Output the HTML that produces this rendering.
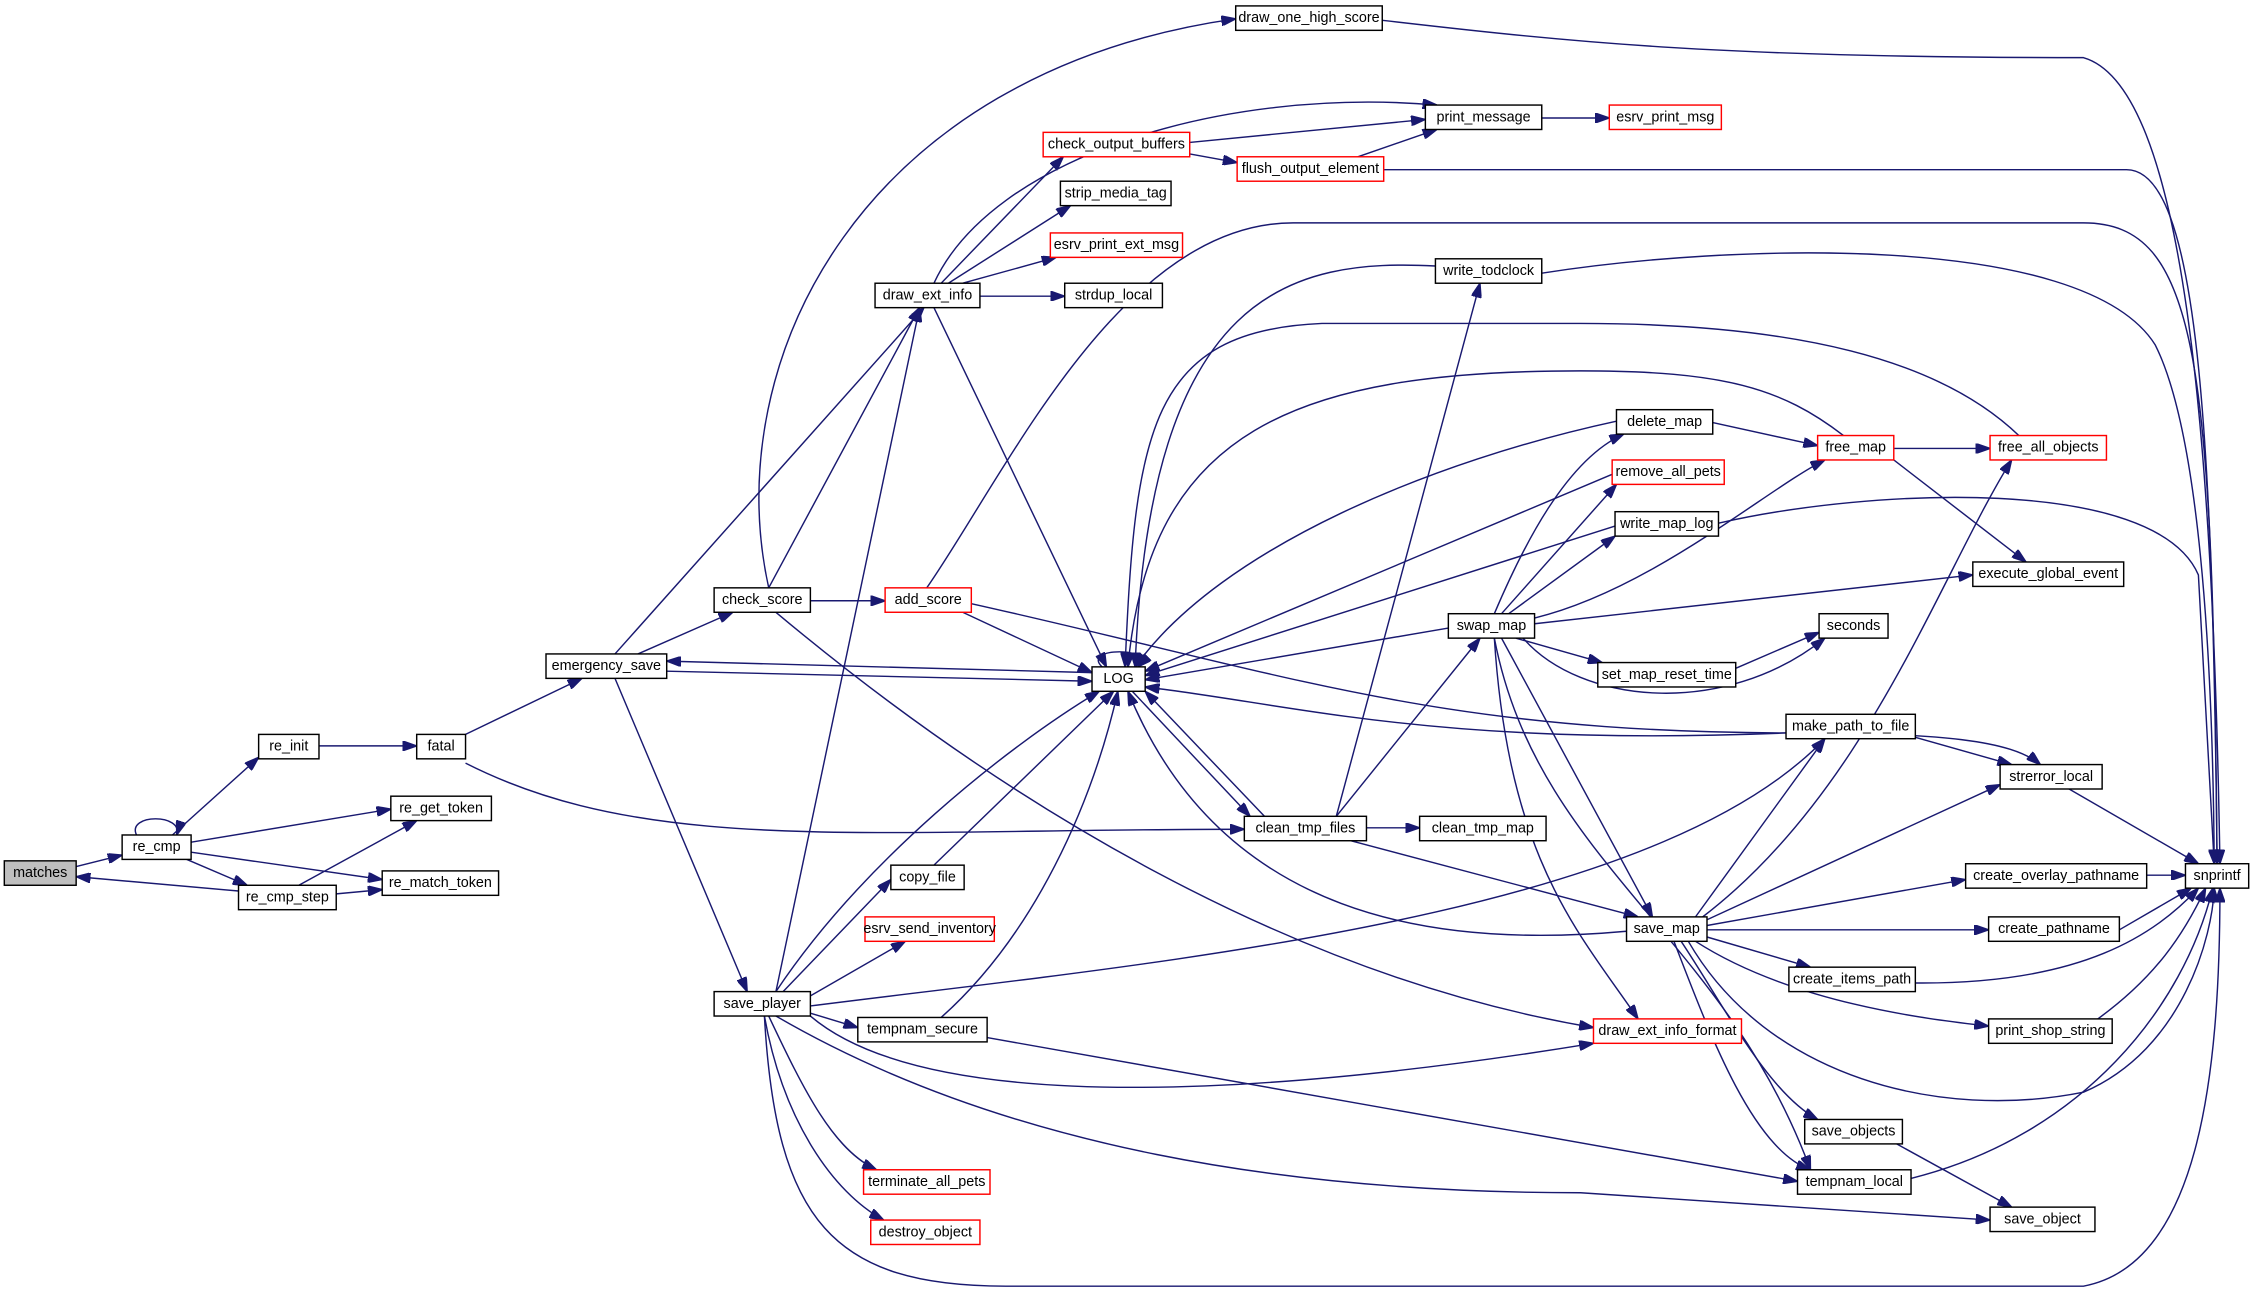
<!DOCTYPE html>
<html><head><meta charset="utf-8"><style>
html,body{margin:0;padding:0;background:#fff;}
svg{display:block;}
text{font-family:"Liberation Sans",sans-serif;font-size:10px;text-anchor:middle;dominant-baseline:central;fill:#000;}
.e{fill:none;stroke:#191970;stroke-width:1;marker-end:url(#a);}
.n{fill:#fff;stroke:#000;stroke-width:1;}
.r{fill:#fff;stroke:#ff0000;stroke-width:1;}
</style></head><body>
<svg width="2253" height="1305" viewBox="0 0 1568 908" xmlns="http://www.w3.org/2000/svg">
<defs><marker id="a" markerWidth="10" markerHeight="7" refX="10" refY="3.5" orient="auto" markerUnits="userSpaceOnUse"><path d="M0,0 L10,3.5 L0,7 z" fill="#191970" stroke="#191970"/></marker></defs>
<g>
<path class="e" d="M53,603 L85,595"/>
<path class="e" d="M95,581 C88,566 128,566 123,581"/>
<path class="e" d="M120,581 L180,527"/>
<path class="e" d="M133,586 L272,563"/>
<path class="e" d="M133,593 L266,612"/>
<path class="e" d="M130,598 L172,616"/>
<path class="e" d="M166,620 L53,610"/>
<path class="e" d="M208,616 L290,571"/>
<path class="e" d="M234,622 L266,619"/>
<path class="e" d="M222,519 L290,519"/>
<path class="e" d="M324,511 L405,472"/>
<path class="e" d="M324,531 C450,595 600,577 866,577"/>
<path class="e" d="M444,455 L510,426"/>
<path class="e" d="M428,455 L643,214"/>
<path class="e" d="M428,472 L520,690"/>
<path class="e" d="M760,468 L464,460"/>
<path class="e" d="M464,467 L760,474"/>
<path class="e" d="M535,409 L640,214"/>
<path class="e" d="M535,409 C500,250 600,50 860,13"/>
<path class="e" d="M564,418 L616,418"/>
<path class="e" d="M540,426 C700,560 900,680 1109,715"/>
<path class="e" d="M670,426 L760,468"/>
<path class="e" d="M645,409 C700,330 780,155 900,155 L1450,155 C1530,155 1540,250 1543,601"/>
<path class="e" d="M676,420 C900,470 1000,510 1250,510 C1350,510 1400,515 1420,532"/>
<path class="e" d="M655,197 L740,109"/>
<path class="e" d="M660,197 L745,143"/>
<path class="e" d="M670,197 L735,179"/>
<path class="e" d="M682,206 L741,206"/>
<path class="e" d="M650,214 L770,464"/>
<path class="e" d="M650,197 C690,110 850,60 1000,73"/>
<path class="e" d="M828,99 L992,83"/>
<path class="e" d="M828,107 L861,113"/>
<path class="e" d="M945,109 L1000,90"/>
<path class="e" d="M963,118 L1480,118 C1530,118 1540,300 1543,601"/>
<path class="e" d="M962,14 C1100,30 1200,40 1450,40 C1520,60 1540,300 1545,601"/>
<path class="e" d="M1073,82 L1120,82"/>
<path class="e" d="M999,185 C900,180 800,200 790,464"/>
<path class="e" d="M1073,190 C1200,170 1450,160 1500,240 C1530,300 1540,450 1541,601"/>
<path class="e" d="M767,464 C752,450 806,450 792,464"/>
<path class="e" d="M1405,303 C1350,250 1250,225 1100,225 L920,225 C800,230 790,300 783,464"/>
<path class="e" d="M1283,303 C1240,270 1200,258 1100,258 C900,258 800,300 785,464"/>
<path class="e" d="M1125,293 C1000,320 850,380 790,464"/>
<path class="e" d="M1122,330 L797,467"/>
<path class="e" d="M1124,366 L797,470"/>
<path class="e" d="M1008,437 L797,473"/>
<path class="e" d="M880,568 L797,481"/>
<path class="e" d="M788,481 L870,568"/>
<path class="e" d="M1243,510 C1000,520 900,490 797,478"/>
<path class="e" d="M1132,648 C1000,660 850,640 785,481"/>
<path class="e" d="M930,568 L1030,197"/>
<path class="e" d="M930,568 L1030,444"/>
<path class="e" d="M951,576 L988,576"/>
<path class="e" d="M940,585 L1140,638"/>
<path class="e" d="M1040,427 C1060,380 1090,320 1130,302"/>
<path class="e" d="M1045,427 L1125,337"/>
<path class="e" d="M1050,427 L1124,373"/>
<path class="e" d="M1068,430 C1150,410 1230,340 1270,320"/>
<path class="e" d="M1068,434 L1373,400"/>
<path class="e" d="M1055,444 L1115,461"/>
<path class="e" d="M1060,444 C1100,490 1200,500 1270,444"/>
<path class="e" d="M1045,444 L1150,638"/>
<path class="e" d="M1040,444 C1050,600 1100,650 1140,709"/>
<path class="e" d="M1040,444 C1070,600 1200,650 1260,814"/>
<path class="e" d="M1192,294 L1265,310"/>
<path class="e" d="M1318,312 L1385,312"/>
<path class="e" d="M1318,320 L1410,391"/>
<path class="e" d="M1196,364 C1300,340 1500,330 1530,400 L1541,601"/>
<path class="e" d="M1208,465 L1266,440"/>
<path class="e" d="M1333,513 L1400,532"/>
<path class="e" d="M1180,638 L1270,514"/>
<path class="e" d="M1188,640 L1392,546"/>
<path class="e" d="M1185,638 C1300,550 1350,400 1400,320"/>
<path class="e" d="M1188,644 L1368,612"/>
<path class="e" d="M1188,647 L1384,647"/>
<path class="e" d="M1188,652 L1260,673"/>
<path class="e" d="M1180,655 C1250,700 1350,710 1384,714"/>
<path class="e" d="M1170,655 C1200,700 1230,760 1265,779"/>
<path class="e" d="M1165,655 C1190,720 1220,800 1260,814"/>
<path class="e" d="M1175,655 C1230,750 1350,780 1450,760 C1520,730 1540,650 1541,618"/>
<path class="e" d="M1440,549 L1530,601"/>
<path class="e" d="M1494,609 L1521,609"/>
<path class="e" d="M1475,647 L1525,618"/>
<path class="e" d="M1333,684 C1450,685 1500,650 1530,618"/>
<path class="e" d="M1460,709 C1500,680 1520,650 1535,618"/>
<path class="e" d="M1330,820 C1450,790 1520,700 1540,618"/>
<path class="e" d="M1320,796 L1400,840"/>
<path class="e" d="M540,690 C600,600 700,520 765,481"/>
<path class="e" d="M540,690 L640,214"/>
<path class="e" d="M545,690 L620,612"/>
<path class="e" d="M564,693 L630,655"/>
<path class="e" d="M564,705 L597,715"/>
<path class="e" d="M564,707 C650,780 900,760 1109,726"/>
<path class="e" d="M564,700 C800,670 1150,640 1270,514"/>
<path class="e" d="M535,707 C560,760 580,800 610,814"/>
<path class="e" d="M532,707 C545,780 580,830 615,849"/>
<path class="e" d="M540,707 C700,800 900,830 1100,830 L1385,849"/>
<path class="e" d="M532,707 C540,850 580,895 700,895 L1450,895 C1530,880 1545,750 1545,618"/>
<path class="e" d="M650,602 L775,481"/>
<path class="e" d="M655,708 C720,650 760,560 778,481"/>
<path class="e" d="M687,722 L1251,822"/>
</g>
<g>
<rect x="3" y="599" width="50" height="17" fill="#bfbfbf" stroke="#000"/><text x="28" y="607.5">matches</text>
<rect class="n" x="85" y="581" width="48" height="17"/><text x="109" y="589.5">re_cmp</text>
<rect class="n" x="180" y="511" width="42" height="17"/><text x="201" y="519.5">re_init</text>
<rect class="n" x="290" y="511" width="34" height="17"/><text x="307" y="519.5">fatal</text>
<rect class="n" x="272" y="554" width="70" height="17"/><text x="307" y="562.5">re_get_token</text>
<rect class="n" x="266" y="606" width="81" height="17"/><text x="306.5" y="614.5">re_match_token</text>
<rect class="n" x="166" y="616" width="68" height="17"/><text x="200" y="624.5">re_cmp_step</text>
<rect class="n" x="380" y="455" width="84" height="17"/><text x="422" y="463.5">emergency_save</text>
<rect class="n" x="497" y="409" width="67" height="17"/><text x="530.5" y="417.5">check_score</text>
<rect class="r" x="616" y="409" width="60" height="17"/><text x="646" y="417.5">add_score</text>
<rect class="n" x="760" y="464" width="37" height="17"/><text x="778.5" y="472.5">LOG</text>
<rect class="n" x="609" y="197" width="73" height="17"/><text x="645.5" y="205.5">draw_ext_info</text>
<rect class="r" x="726" y="92" width="102" height="17"/><text x="777" y="100.5">check_output_buffers</text>
<rect class="n" x="738" y="126" width="77" height="17"/><text x="776.5" y="134.5">strip_media_tag</text>
<rect class="r" x="731" y="162" width="92" height="17"/><text x="777" y="170.5">esrv_print_ext_msg</text>
<rect class="n" x="741" y="197" width="68" height="17"/><text x="775" y="205.5">strdup_local</text>
<rect class="n" x="860" y="4" width="102" height="17"/><text x="911" y="12.5">draw_one_high_score</text>
<rect class="n" x="992" y="73" width="81" height="17"/><text x="1032.5" y="81.5">print_message</text>
<rect class="r" x="1120" y="73" width="78" height="17"/><text x="1159" y="81.5">esrv_print_msg</text>
<rect class="r" x="861" y="109" width="102" height="17"/><text x="912" y="117.5">flush_output_element</text>
<rect class="n" x="999" y="180" width="74" height="17"/><text x="1036" y="188.5">write_todclock</text>
<rect class="n" x="1125" y="285" width="67" height="17"/><text x="1158.5" y="293.5">delete_map</text>
<rect class="r" x="1265" y="303" width="53" height="17"/><text x="1291.5" y="311.5">free_map</text>
<rect class="r" x="1385" y="303" width="81" height="17"/><text x="1425.5" y="311.5">free_all_objects</text>
<rect class="r" x="1122" y="320" width="78" height="17"/><text x="1161" y="328.5">remove_all_pets</text>
<rect class="n" x="1124" y="356" width="72" height="17"/><text x="1160" y="364.5">write_map_log</text>
<rect class="n" x="1008" y="427" width="60" height="17"/><text x="1038" y="435.5">swap_map</text>
<rect class="n" x="1373" y="391" width="105" height="17"/><text x="1425.5" y="399.5">execute_global_event</text>
<rect class="n" x="1266" y="427" width="48" height="17"/><text x="1290" y="435.5">seconds</text>
<rect class="n" x="1112" y="461" width="96" height="17"/><text x="1160" y="469.5">set_map_reset_time</text>
<rect class="n" x="1243" y="497" width="90" height="17"/><text x="1288" y="505.5">make_path_to_file</text>
<rect class="n" x="1392" y="532" width="71" height="17"/><text x="1427.5" y="540.5">strerror_local</text>
<rect class="n" x="866" y="568" width="85" height="17"/><text x="908.5" y="576.5">clean_tmp_files</text>
<rect class="n" x="988" y="568" width="88" height="17"/><text x="1032" y="576.5">clean_tmp_map</text>
<rect class="n" x="1521" y="601" width="44" height="17"/><text x="1543" y="609.5">snprintf</text>
<rect class="n" x="1368" y="601" width="126" height="17"/><text x="1431" y="609.5">create_overlay_pathname</text>
<rect class="n" x="1384" y="638" width="91" height="17"/><text x="1429.5" y="646.5">create_pathname</text>
<rect class="n" x="1132" y="638" width="56" height="17"/><text x="1160" y="646.5">save_map</text>
<rect class="n" x="1245" y="673" width="88" height="17"/><text x="1289" y="681.5">create_items_path</text>
<rect class="n" x="620" y="602" width="51" height="17"/><text x="645.5" y="610.5">copy_file</text>
<rect class="r" x="602" y="638" width="90" height="17"/><text x="647" y="646.5">esrv_send_inventory</text>
<rect class="n" x="497" y="690" width="67" height="17"/><text x="530.5" y="698.5">save_player</text>
<rect class="n" x="597" y="708" width="90" height="17"/><text x="642" y="716.5">tempnam_secure</text>
<rect class="r" x="1109" y="709" width="103" height="17"/><text x="1160.5" y="717.5">draw_ext_info_format</text>
<rect class="n" x="1384" y="709" width="86" height="17"/><text x="1427" y="717.5">print_shop_string</text>
<rect class="n" x="1256" y="779" width="68" height="17"/><text x="1290" y="787.5">save_objects</text>
<rect class="n" x="1251" y="814" width="79" height="17"/><text x="1290.5" y="822.5">tempnam_local</text>
<rect class="r" x="601" y="814" width="88" height="17"/><text x="645" y="822.5">terminate_all_pets</text>
<rect class="r" x="606" y="849" width="76" height="17"/><text x="644" y="857.5">destroy_object</text>
<rect class="n" x="1385" y="840" width="73" height="17"/><text x="1421.5" y="848.5">save_object</text>
</g>
</svg>
</body></html>
